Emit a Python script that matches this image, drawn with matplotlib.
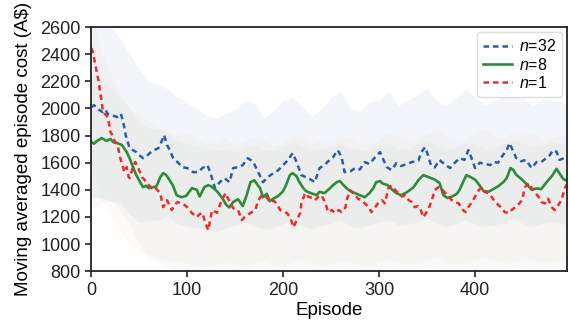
import numpy as np
from matplotlib import pyplot as plt

plt.rcParams['font.family'] = ['Liberation Sans', 'DejaVu Sans']
plt.rcParams['mathtext.fontset'] = 'custom'
plt.rcParams['mathtext.it'] = 'Liberation Sans:italic'
plt.rcParams['mathtext.rm'] = 'Liberation Sans'

# moving averaged cost (episode, value)
ep_n32 = [0, 3, 7, 12, 15, 17, 22, 27, 31, 34, 36, 40, 44, 47, 51, 54, 58, 61, 65, 70, 73, 76, 79, 82, 85,
          90, 95, 100, 103, 106, 111, 116, 121, 124, 127, 129, 134, 139, 144, 148, 153, 158, 163, 166, 169,
          174, 179, 184, 190, 195, 200, 205, 210, 214, 219, 226, 230, 233, 238, 243, 247, 252, 257, 261,
          264, 270, 275, 280, 285, 290, 295, 301, 304, 308, 313, 318, 323, 329, 334, 341, 344, 348, 351,
          354, 358, 363, 368, 374, 379, 384, 389, 393, 396, 400, 405, 410, 416, 419, 424, 429, 433, 436,
          440, 443, 448, 453, 459, 464, 469, 474, 478, 481, 485, 488, 493, 496]
cost_n32 = [2010, 2024, 1995, 1973, 1990, 1960, 1950, 1936, 1960, 1877, 1803, 1707, 1690, 1678, 1650, 1633,
            1650, 1670, 1690, 1707, 1750, 1803, 1730, 1690, 1640, 1604, 1567, 1560, 1545, 1530, 1530, 1560,
            1582, 1530, 1460, 1412, 1456, 1486, 1456, 1560, 1567, 1582, 1633, 1620, 1604, 1530, 1456, 1493,
            1523, 1545, 1582, 1619, 1670, 1604, 1508, 1486, 1470, 1456, 1560, 1582, 1610, 1640, 1692, 1640,
            1530, 1535, 1560, 1550, 1604, 1590, 1633, 1678, 1630, 1567, 1545, 1596, 1575, 1590, 1604, 1615,
            1678, 1714, 1655, 1582, 1565, 1619, 1590, 1560, 1600, 1633, 1620, 1692, 1640, 1560, 1600, 1590,
            1582, 1605, 1600, 1655, 1692, 1744, 1680, 1633, 1610, 1620, 1560, 1604, 1604, 1633, 1655, 1692,
            1680, 1620, 1633, 1640]

ep_n8 = [0, 3, 6, 11, 16, 20, 23, 27, 32, 37, 40, 44, 47, 51, 54, 57, 60, 65, 68, 72, 75, 78, 80, 85, 89,
         94, 99, 105, 110, 113, 118, 122, 125, 131, 136, 141, 144, 148, 153, 158, 162, 166, 170, 173, 176,
         179, 183, 186, 190, 195, 200, 203, 207, 210, 214, 217, 221, 224, 229, 235, 238, 243, 249, 252, 256,
         259, 263, 266, 270, 275, 280, 285, 290, 294, 297, 301, 304, 309, 313, 318, 323, 329, 332, 336, 341,
         346, 351, 358, 363, 367, 371, 376, 381, 384, 388, 391, 395, 400, 404, 409, 414, 419, 424, 430, 433,
         437, 440, 443, 449, 454, 459, 464, 469, 475, 480, 485, 488, 492, 496]
cost_n8 = [1751, 1740, 1760, 1781, 1760, 1775, 1751, 1745, 1730, 1678, 1633, 1560, 1508, 1456, 1419, 1430,
           1412, 1420, 1425, 1493, 1523, 1510, 1490, 1434, 1360, 1345, 1355, 1412, 1400, 1350, 1420, 1434,
           1425, 1390, 1345, 1287, 1270, 1310, 1330, 1280, 1360, 1456, 1470, 1440, 1412, 1345, 1370, 1316,
           1335, 1355, 1390, 1434, 1508, 1523, 1500, 1456, 1412, 1390, 1375, 1360, 1385, 1375, 1412, 1434,
           1456, 1465, 1434, 1412, 1390, 1375, 1360, 1345, 1375, 1412, 1456, 1464, 1445, 1434, 1405, 1375,
           1360, 1382, 1397, 1420, 1471, 1508, 1495, 1475, 1450, 1360, 1340, 1350, 1370, 1400, 1464, 1508,
           1495, 1475, 1440, 1390, 1385, 1405, 1425, 1460, 1486, 1560, 1545, 1510, 1475, 1440, 1400, 1410,
           1405, 1460, 1500, 1555, 1520, 1480, 1465]

ep_n1 = [0, 1, 3, 6, 8, 9, 11, 12, 14, 16, 18, 20, 21, 23, 25, 28, 30, 32, 34, 35, 37, 39, 40, 42, 44, 46,
         49, 53, 56, 58, 63, 66, 69, 72, 75, 77, 79, 84, 87, 90, 95, 100, 105, 110, 113, 116, 119, 122, 126,
         131, 136, 140, 143, 148, 153, 157, 160, 166, 171, 174, 178, 183, 186, 190, 193, 197, 200, 204, 207,
         211, 214, 218, 219, 223, 226, 230, 233, 237, 240, 244, 247, 251, 254, 258, 261, 265, 266, 270, 275,
         278, 282, 285, 289, 292, 296, 299, 303, 306, 310, 313, 317, 320, 324, 327, 331, 334, 337, 341, 343,
         346, 351, 355, 358, 362, 365, 369, 372, 376, 379, 383, 386, 390, 393, 397, 400, 404, 407, 410, 414,
         417, 421, 424, 428, 431, 435, 438, 442, 445, 449, 452, 456, 459, 463, 466, 469, 473, 476, 480, 483,
         487, 490, 494, 496]
cost_n1 = [2445, 2430, 2371, 2260, 2194, 2135, 2047, 1990, 1960, 1950, 1914, 1825, 1818, 1781, 1751, 1714,
           1640, 1596, 1545, 1530, 1567, 1493, 1486, 1530, 1580, 1604, 1560, 1493, 1470, 1449, 1412, 1420,
           1397, 1375, 1272, 1290, 1323, 1250, 1290, 1309, 1300, 1272, 1228, 1198, 1220, 1230, 1154, 1102,
           1250, 1230, 1323, 1375, 1330, 1264, 1250, 1176, 1200, 1228, 1250, 1323, 1360, 1345, 1309, 1320,
           1300, 1250, 1240, 1228, 1200, 1124, 1176, 1230, 1301, 1375, 1350, 1340, 1323, 1350, 1360, 1301,
           1235, 1250, 1228, 1250, 1235, 1270, 1320, 1397, 1360, 1335, 1323, 1300, 1272, 1235, 1272, 1300,
           1323, 1300, 1419, 1430, 1397, 1375, 1350, 1360, 1323, 1310, 1272, 1280, 1260, 1198, 1250, 1323,
           1397, 1419, 1410, 1375, 1350, 1323, 1310, 1300, 1260, 1235, 1272, 1310, 1350, 1397, 1419, 1385,
           1375, 1350, 1310, 1290, 1265, 1235, 1228, 1250, 1272, 1290, 1323, 1419, 1449, 1412, 1375, 1350,
           1310, 1300, 1335, 1272, 1250, 1290, 1323, 1419, 1440]

# spread bands (every 10 episodes)
ep_band = list(range(0, 500, 10)) + [496]
n32_hi = [2700, 2650, 2600, 2520, 2400, 2290, 2200, 2180, 2140, 2080, 2040, 2000, 1950, 1930, 1960, 1990,
          2060, 2040, 1930, 1980, 2060, 2080, 2010, 1940, 2000, 2080, 2130, 2000, 1980, 2050, 2060, 2130,
          2020, 2060, 2100, 2150, 2060, 2020, 2080, 2140, 2090, 2020, 2060, 2090, 2130, 2080, 2020, 2070,
          2060, 2050, 2030]
n32_lo = [1350, 1340, 1320, 1300, 1220, 1160, 1170, 1180, 1200, 1150, 1130, 1120, 1110, 1090, 1120, 1140,
          1160, 1130, 1110, 1120, 1150, 1170, 1130, 1110, 1140, 1150, 1180, 1130, 1120, 1140, 1160, 1180,
          1140, 1150, 1160, 1190, 1150, 1130, 1150, 1180, 1150, 1130, 1140, 1160, 1190, 1150, 1130, 1150,
          1160, 1150, 1140]
n8_hi = [2250, 2200, 2150, 2080, 2000, 1900, 1850, 1850, 1820, 1760, 1740, 1720, 1700, 1690, 1700, 1680,
         1710, 1730, 1700, 1690, 1720, 1750, 1720, 1690, 1700, 1720, 1740, 1710, 1690, 1700, 1730, 1740,
         1700, 1700, 1740, 1760, 1730, 1690, 1710, 1750, 1740, 1700, 1710, 1740, 1770, 1740, 1720, 1730,
         1760, 1740, 1730]
n8_lo = [1250, 1300, 1320, 1250, 1150, 1000, 900, 860, 830, 800, 790, 780, 770, 790, 780, 770, 800, 820,
         790, 780, 800, 820, 790, 770, 790, 810, 820, 790, 780, 790, 810, 820, 790, 780, 800, 830, 800, 780,
         790, 820, 810, 790, 790, 810, 830, 810, 790, 800, 820, 810, 800]
n1_hi = [2650, 2450, 2250, 2100, 2000, 1950, 1900, 1870, 1830, 1800, 1820, 1770, 1740, 1750, 1780, 1730,
         1760, 1790, 1760, 1720, 1750, 1800, 1790, 1740, 1770, 1760, 1800, 1780, 1740, 1730, 1770, 1820,
         1790, 1760, 1780, 1810, 1840, 1790, 1760, 1770, 1820, 1850, 1800, 1780, 1830, 1800, 1820, 1770,
         1780, 1800, 1790]
n1_lo = [1500, 1350, 1200, 1100, 1000, 950, 920, 890, 870, 880, 860, 840, 830, 850, 870, 850, 840, 860, 880,
         850, 840, 870, 890, 860, 840, 860, 880, 870, 850, 840, 870, 890, 870, 850, 860, 880, 900, 870, 850,
         860, 880, 900, 880, 860, 870, 890, 880, 860, 870, 880, 870]

c32, c8, c1 = '#2a5caa', '#2e8b3a', '#ee2b2b'

fig, ax = plt.subplots(figsize=(5.7, 3.22), dpi=100)
fig.subplots_adjust(left=0.160, right=0.995, top=0.916, bottom=0.158)

ax.fill_between(ep_band, n32_lo, n32_hi, color=c32, alpha=0.06, lw=0)
ax.fill_between(ep_band, n8_lo, n8_hi, color=c8, alpha=0.035, lw=0)
ax.fill_between(ep_band, n1_lo, n1_hi, color='#f08040', alpha=0.035, lw=0)

ax.plot(ep_n32, cost_n32, color=c32, lw=1.8, ls=(0, (2.2, 1.6)), label='$n$=32')
ax.plot(ep_n8, cost_n8, color=c8, lw=1.9, label='$n$=8')
ax.plot(ep_n1, cost_n1, color=c1, lw=1.8, ls=(0, (2.2, 1.6)), label='$n$=1')

ax.set_xlim(0, 496)
ax.set_ylim(800, 2600)
ax.set_xticks([0, 100, 200, 300, 400])
ax.set_yticks(np.arange(800, 2601, 200))
ax.set_xlabel('Episode', fontsize=13.5, labelpad=2.5)
ax.set_ylabel('Moving averaged episode cost (A$)', fontsize=13.5, labelpad=6)
ax.tick_params(labelsize=13, length=4, width=1.2, colors='#222222', pad=3.5)
for s in ax.spines.values():
    s.set_linewidth(1.3)
    s.set_color('#222222')

ax.legend(loc='upper right', fontsize=11.5, labelspacing=0.15, handlelength=1.8, handletextpad=0.45,
          borderaxespad=0.3, borderpad=0.4, framealpha=1, edgecolor='#dddddd')

plt.savefig('out.png', dpi=100)
